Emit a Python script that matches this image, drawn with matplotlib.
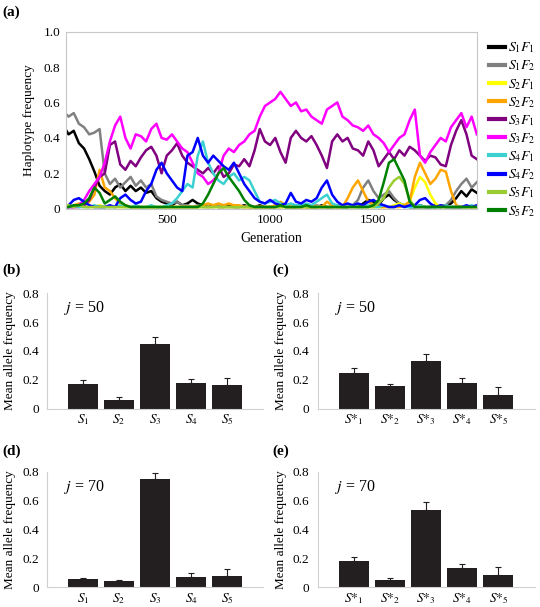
import numpy as np
import matplotlib.pyplot as plt

plt.rcParams['font.family'] = ['Liberation Serif', 'DejaVu Serif']
plt.rcParams['mathtext.fontset'] = 'stix'

# haplotype frequencies read every 25 generations
gens = np.arange(0, 2001, 25)
s1f1 = [0.47,0.42,0.44,0.37,0.34,0.28,0.21,0.13,0.10,0.08,0.12,0.14,0.10,0.13,0.10,0.12,0.09,0.10,0.06,0.04,
        0.03,0.02,0.04,0.02,0.03,0.05,0.03,0.02,0.01,0.02,0.01,0.01,0.02,0.01,0.01,0.02,0.01,0.01,0.02,0.01,
        0.01,0.01,0.02,0.01,0.01,0.01,0.02,0.01,0.01,0.01,0.02,0.01,0.01,0.02,0.01,0.01,0.02,0.01,0.03,0.05,
        0.04,0.02,0.06,0.08,0.05,0.03,0.02,0.01,0.01,0.02,0.01,0.01,0.02,0.01,0.02,0.03,0.06,0.10,0.07,0.11,0.09]
s1f2 = [0.55,0.52,0.54,0.48,0.46,0.42,0.43,0.45,0.20,0.14,0.17,0.12,0.15,0.18,0.13,0.16,0.12,0.14,0.07,0.05,
        0.04,0.03,0.04,0.02,0.02,0.01,0.02,0.01,0.01,0.01,0.02,0.01,0.01,0.01,0.01,0.01,0.02,0.01,0.01,0.01,
        0.01,0.01,0.01,0.02,0.01,0.01,0.01,0.01,0.01,0.02,0.01,0.01,0.01,0.01,0.01,0.01,0.02,0.05,0.12,0.16,
        0.10,0.06,0.08,0.10,0.06,0.03,0.02,0.01,0.01,0.01,0.01,0.01,0.01,0.02,0.02,0.05,0.10,0.14,0.17,0.12,0.15]
s2f1 = [0.02,0.02,0.01,0.02,0.01,0.01,0.01,0.02,0.01,0.01,0.01,0.01,0.01,0.01,0.01,0.01,0.01,0.01,0.01,0.01,
        0.01,0.01,0.01,0.01,0.01,0.01,0.01,0.01,0.01,0.01,0.01,0.01,0.01,0.01,0.01,0.01,0.01,0.01,0.01,0.01,
        0.01,0.01,0.01,0.01,0.01,0.01,0.01,0.01,0.01,0.01,0.01,0.01,0.01,0.01,0.01,0.01,0.01,0.01,0.01,0.01,
        0.01,0.01,0.01,0.01,0.02,0.03,0.02,0.04,0.12,0.18,0.15,0.08,0.03,0.01,0.01,0.01,0.01,0.01,0.01,0.01,0.01]
s2f2 = [0.01,0.01,0.02,0.03,0.02,0.04,0.08,0.22,0.12,0.10,0.06,0.03,0.02,0.01,0.01,0.01,0.01,0.01,0.01,0.01,
        0.01,0.01,0.01,0.01,0.01,0.01,0.01,0.02,0.03,0.02,0.03,0.02,0.03,0.02,0.02,0.01,0.01,0.01,0.01,0.01,
        0.01,0.02,0.04,0.02,0.01,0.01,0.01,0.01,0.01,0.01,0.01,0.04,0.02,0.01,0.01,0.06,0.12,0.16,0.10,0.04,
        0.02,0.01,0.01,0.01,0.01,0.01,0.02,0.04,0.18,0.26,0.20,0.14,0.17,0.22,0.21,0.10,0.02,0.01,0.01,0.01,0.01]
s3f1 = [0.01,0.01,0.01,0.01,0.02,0.05,0.12,0.18,0.20,0.36,0.38,0.25,0.22,0.27,0.24,0.29,0.33,0.35,0.30,0.20,
        0.30,0.33,0.37,0.30,0.26,0.24,0.22,0.20,0.23,0.20,0.24,0.18,0.20,0.25,0.24,0.28,0.24,0.33,0.45,0.38,
        0.36,0.40,0.32,0.26,0.40,0.44,0.40,0.38,0.41,0.36,0.30,0.23,0.38,0.42,0.38,0.40,0.34,0.33,0.30,0.38,
        0.33,0.24,0.28,0.32,0.28,0.33,0.30,0.35,0.33,0.30,0.27,0.30,0.29,0.25,0.24,0.36,0.44,0.50,0.42,0.30,0.28]
s3f2 = [0.01,0.01,0.01,0.02,0.05,0.10,0.14,0.18,0.26,0.38,0.47,0.52,0.40,0.34,0.42,0.41,0.38,0.45,0.48,0.40,
        0.39,0.42,0.38,0.34,0.32,0.26,0.20,0.18,0.14,0.16,0.20,0.30,0.34,0.32,0.36,0.38,0.42,0.44,0.52,0.58,
        0.60,0.62,0.66,0.62,0.58,0.60,0.55,0.56,0.52,0.50,0.48,0.56,0.58,0.60,0.52,0.50,0.47,0.46,0.44,0.47,
        0.42,0.40,0.37,0.32,0.36,0.40,0.42,0.50,0.56,0.30,0.26,0.32,0.36,0.40,0.38,0.46,0.50,0.54,0.46,0.52,0.42]
s4f1 = [0.01,0.01,0.02,0.01,0.01,0.01,0.02,0.01,0.01,0.01,0.01,0.02,0.01,0.01,0.02,0.01,0.01,0.02,0.01,0.01,
        0.02,0.03,0.06,0.10,0.14,0.12,0.30,0.38,0.26,0.20,0.16,0.14,0.18,0.20,0.16,0.18,0.16,0.10,0.04,0.03,
        0.04,0.05,0.03,0.02,0.03,0.02,0.02,0.03,0.02,0.04,0.06,0.08,0.03,0.02,0.01,0.01,0.02,0.01,0.01,0.02,
        0.01,0.01,0.02,0.01,0.01,0.02,0.01,0.01,0.01,0.02,0.01,0.01,0.01,0.01,0.02,0.01,0.01,0.01,0.01,0.02,0.01]
s4f2 = [0.00,0.02,0.05,0.06,0.04,0.02,0.01,0.01,0.01,0.02,0.01,0.06,0.08,0.05,0.03,0.04,0.10,0.14,0.22,0.26,
        0.20,0.16,0.12,0.10,0.30,0.32,0.40,0.30,0.26,0.30,0.27,0.24,0.22,0.26,0.20,0.14,0.10,0.06,0.04,0.03,
        0.05,0.03,0.02,0.03,0.09,0.04,0.03,0.05,0.04,0.06,0.12,0.16,0.08,0.04,0.02,0.03,0.02,0.03,0.02,0.04,
        0.05,0.03,0.02,0.01,0.01,0.02,0.01,0.02,0.02,0.05,0.06,0.03,0.01,0.02,0.01,0.01,0.01,0.01,0.02,0.01,0.02]
s5f1 = [0.02,0.02,0.01,0.02,0.01,0.01,0.01,0.01,0.01,0.01,0.01,0.01,0.01,0.01,0.01,0.01,0.01,0.01,0.01,0.01,
        0.01,0.01,0.01,0.01,0.01,0.01,0.01,0.01,0.01,0.01,0.01,0.01,0.01,0.01,0.01,0.01,0.01,0.01,0.01,0.01,
        0.01,0.01,0.01,0.01,0.01,0.01,0.01,0.01,0.01,0.01,0.01,0.01,0.01,0.01,0.01,0.01,0.01,0.01,0.01,0.01,
        0.01,0.03,0.06,0.12,0.16,0.18,0.14,0.05,0.01,0.01,0.01,0.01,0.01,0.01,0.01,0.01,0.01,0.01,0.01,0.01,0.01]
s5f2 = [0.01,0.01,0.02,0.02,0.03,0.06,0.12,0.09,0.03,0.05,0.07,0.04,0.02,0.01,0.01,0.01,0.01,0.01,0.01,0.01,
        0.01,0.01,0.01,0.01,0.01,0.01,0.01,0.03,0.08,0.14,0.20,0.23,0.18,0.14,0.10,0.05,0.02,0.01,0.01,0.01,
        0.01,0.01,0.02,0.01,0.01,0.01,0.01,0.02,0.01,0.01,0.01,0.01,0.01,0.01,0.01,0.01,0.01,0.01,0.01,0.01,
        0.02,0.05,0.15,0.26,0.28,0.22,0.16,0.04,0.01,0.01,0.01,0.01,0.01,0.01,0.01,0.01,0.01,0.01,0.01,0.01,0.01]

hap_series = [s1f1, s1f2, s2f1, s2f2, s3f1, s3f2, s4f1, s4f2, s5f1, s5f2]
hap_labels = [r'$S_1F_1$', r'$S_1F_2$', r'$S_2F_1$', r'$S_2F_2$', r'$S_3F_1$',
              r'$S_3F_2$', r'$S_4F_1$', r'$S_4F_2$', r'$S_5F_1$', r'$S_5F_2$']
hap_colors = ['black', '#808080', '#ffff00', '#ffa500', '#800080',
              '#ff00ff', '#3cd0d0', '#0000ff', '#9acd32', '#008000']

# mean allele frequencies (bars) with upper error
s_labels = [r'$S_1$', r'$S_2$', r'$S_3$', r'$S_4$', r'$S_5$']
sstar_labels = [r'$S{*}_1$', r'$S{*}_2$', r'$S{*}_3$', r'$S{*}_4$', r'$S{*}_5$']
b_vals = [0.169, 0.060, 0.448, 0.174, 0.160]
b_err = [0.028, 0.017, 0.046, 0.030, 0.051]
c_vals = [0.246, 0.153, 0.329, 0.176, 0.097]
c_err = [0.032, 0.014, 0.049, 0.033, 0.054]
d_vals = [0.058, 0.041, 0.749, 0.071, 0.078]
d_err = [0.009, 0.012, 0.046, 0.026, 0.049]
e_vals = [0.182, 0.051, 0.535, 0.134, 0.085]
e_err = [0.028, 0.011, 0.055, 0.027, 0.056]

fig = plt.figure(figsize=(5.4, 6.07), dpi=100)

ax = fig.add_axes([0.122, 0.656, 0.761, 0.292])
for s, lab, col in zip(hap_series, hap_labels, hap_colors):
    ax.plot(gens, s, color=col, lw=1.8, label=lab)
ax.set_xlim(12, 2000)
ax.set_ylim(0, 1)
ax.set_xticks([500, 1000, 1500])
ax.set_yticks([0, 0.2, 0.4, 0.6, 0.8, 1.0])
ax.set_yticklabels(['0', '0.2', '0.4', '0.6', '0.8', '1.0'])
ax.tick_params(length=0, labelsize=9.5, pad=4)
for sp in ax.spines.values():
    sp.set_color('#c8c8c8')
ax.set_xlabel('Generation', fontsize=10, labelpad=4)
ax.set_ylabel('Haplotype frequency', fontsize=9.5, labelpad=6)
leg = ax.legend(loc='upper left', bbox_to_anchor=(1.0, 1.02), frameon=False,
                handlelength=1.1, handletextpad=0.25, labelspacing=0.24,
                fontsize=10, borderaxespad=0.5)
for h in leg.get_lines():
    h.set_linewidth(3)

panels = [
    ([0.087, 0.327, 0.40, 0.19], b_vals, b_err, s_labels, 50),
    ([0.588, 0.327, 0.402, 0.19], c_vals, c_err, sstar_labels, 50),
    ([0.087, 0.0325, 0.40, 0.19], d_vals, d_err, s_labels, 70),
    ([0.588, 0.0325, 0.402, 0.19], e_vals, e_err, sstar_labels, 70),
]
x = np.arange(5)
for pos, vals, err, labs, j in panels:
    bx = fig.add_axes(pos)
    bx.bar(x, vals, width=0.83, color='#231f20')
    bx.errorbar(x, vals, yerr=[np.zeros(5), err], fmt='none', ecolor='#231f20',
                elinewidth=0.8, capsize=2, capthick=0.8)
    bx.set_xlim(-1, 5)
    bx.set_ylim(0, 0.8)
    bx.set_xticks(x)
    bx.set_xticklabels(labs, fontsize=10.5)
    bx.set_yticks([0, 0.2, 0.4, 0.6, 0.8])
    bx.set_yticklabels(['0', '0.2', '0.4', '0.6', '0.8'])
    bx.tick_params(length=0, labelsize=9.5)
    bx.tick_params(axis='y', pad=6)
    bx.tick_params(axis='x', pad=3)
    bx.spines['top'].set_visible(False)
    bx.spines['right'].set_visible(False)
    bx.spines['left'].set_color('#d0d0d0')
    bx.spines['bottom'].set_color('#d0d0d0')
    bx.set_ylabel('Mean allele frequency', fontsize=9.5, labelpad=4)
    bx.text(0.08, 0.87, r'$j$ = %d' % j, transform=bx.transAxes, va='center', fontsize=11.5)

fig.text(0.005, 0.98, '(a)', fontweight='bold', fontsize=11, va='center')
fig.text(0.005, 0.555, '(b)', fontweight='bold', fontsize=11, va='center')
fig.text(0.505, 0.555, '(c)', fontweight='bold', fontsize=11, va='center')
fig.text(0.005, 0.257, '(d)', fontweight='bold', fontsize=11, va='center')
fig.text(0.505, 0.257, '(e)', fontweight='bold', fontsize=11, va='center')

fig.savefig('out.png', dpi=100)
